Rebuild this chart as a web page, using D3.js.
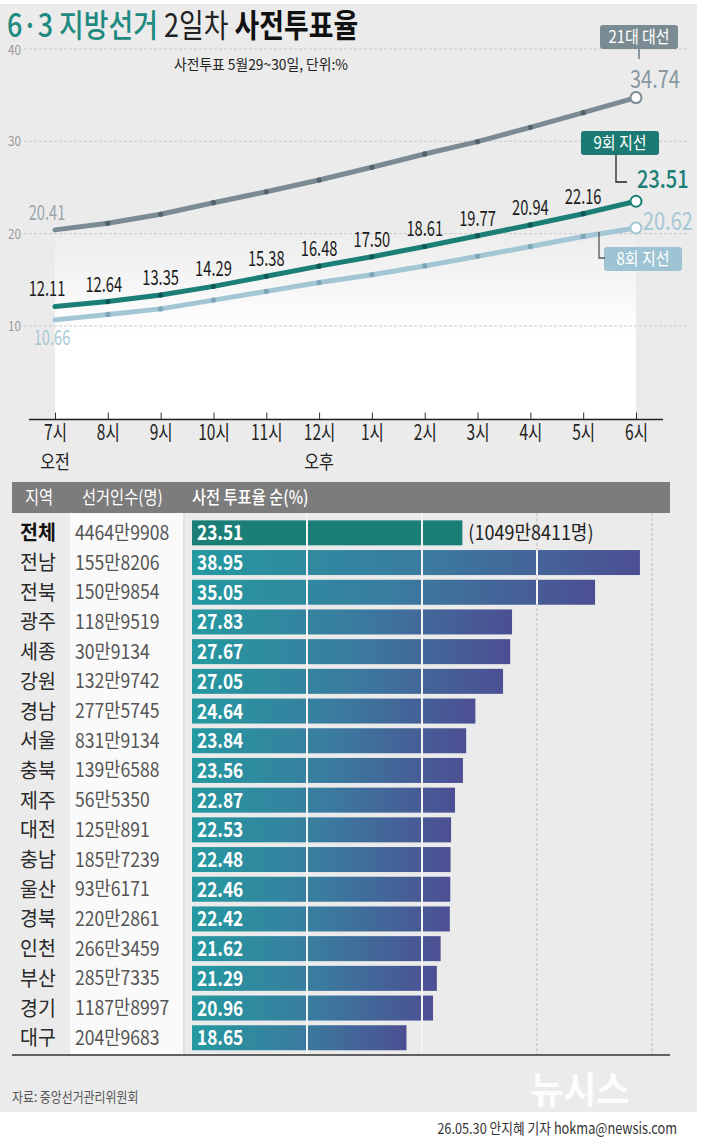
<!DOCTYPE html>
<html><head><meta charset="utf-8">
<script src="https://cdn.jsdelivr.net/npm/d3@7"></script>
<style>
html,body{margin:0;padding:0;background:#fff;}
svg{display:block;font-family:"Noto Sans CJK KR","Noto Sans",sans-serif;}
</style></head>
<body>
<svg id="c" width="705" height="1142"></svg>
<script>
// ---------- DATA ----------
const hours = ["7시","8시","9시","10시","11시","12시","1시","2시","3시","4시","5시","6시"];
const yTicks = [10,20,30,40];
const pres21 = [20.41,21.12,22.10,23.35,24.54,25.81,27.19,28.63,29.96,31.52,33.10,34.74];
const local9 = [12.11,12.64,13.35,14.29,15.38,16.48,17.50,18.61,19.77,20.94,22.16,23.51];
const local8 = [10.66,11.25,11.85,12.80,13.75,14.70,15.55,16.50,17.55,18.60,19.70,20.62];
const seriesNames = ["21대 대선","9회 지선","8회 지선"];

const regions  = ["전체","전남","전북","광주","세종","강원","경남","서울","충북","제주","대전","충남","울산","경북","인천","부산","경기","대구"];
const electors = ["4464만9908","155만8206","150만9854","118만9519","30만9134","132만9742","277만5745","831만9134","139만6588","56만5350","125만891","185만7239","93만6171","220만2861","266만3459","285만7335","1187만8997","204만9683"];
const rates    = [23.51,38.95,35.05,27.83,27.67,27.05,24.64,23.84,23.56,22.87,22.53,22.48,22.46,22.42,21.62,21.29,20.96,18.65];
const barTicks = [10,20,30,40];
const totalVoters = "(1049만8411명)";

// ---------- SETUP ----------
const svg = d3.select("#c");
const defs = svg.append("defs");

function T(p, x, y, s, o={}) {
  const t = p.append("text")
    .attr("transform", `translate(${x},${y}) scale(${o.sx||1},1)`)
    .attr("font-size", o.size||16)
    .attr("font-weight", o.weight||400)
    .attr("fill", o.fill||"#222")
    .attr("text-anchor", o.anchor||"start")
    .text(s);
  return t;
}

// backgrounds
svg.append("rect").attr("x",0).attr("y",0).attr("width",705).attr("height",1142).attr("fill","#ffffff");
svg.append("rect").attr("x",0).attr("y",4).attr("width",697).attr("height",1108).attr("fill","#ebebeb");

// ---------- LINE CHART ----------
const x = d3.scalePoint().domain(hours).range([55,636]);
const y = d3.scaleLinear().domain([0,40]).range([418.3,49]);

const grad = defs.append("linearGradient").attr("id","areaG")
  .attr("gradientUnits","userSpaceOnUse").attr("x1",0).attr("x2",0).attr("y1",y(21)).attr("y2",y(9));
grad.append("stop").attr("offset",0).attr("stop-color","#ebebeb");
grad.append("stop").attr("offset",1).attr("stop-color","#ffffff");

svg.append("path").datum(pres21)
  .attr("d", d3.area().x((d,i)=>x(hours[i])).y0(y(0)).y1(d=>y(d)))
  .attr("fill","url(#areaG)");

// grid
svg.append("g").selectAll("line").data(yTicks).join("line")
  .attr("x1",24).attr("x2",688).attr("y1",d=>y(d)).attr("y2",d=>y(d))
  .attr("stroke","#c9c9c9").attr("stroke-width",1).attr("stroke-dasharray","3,2");
yTicks.forEach(v=>{
  T(svg, 8, y(v)+(v===40?6:5), String(v), {size:13, fill:"#9a9a9a", sx:0.9});
});

// x axis
const xAxis = svg.append("g").attr("transform",`translate(0,${419.5})`)
  .call(d3.axisBottom(x).tickSizeInner(-7).tickSizeOuter(0).tickPadding(6));
xAxis.select(".domain").remove();
xAxis.append("line").attr("x1",29).attr("x2",663).attr("stroke","#222").attr("stroke-width",1.5);
xAxis.selectAll(".tick line").attr("stroke","#333").attr("stroke-width",1);
xAxis.selectAll(".tick text").attr("font-size",21).attr("fill","#222")
  .attr("font-family","'Noto Sans CJK KR',sans-serif").attr("transform","scale(0.74,1)");
T(svg, x("7시"), 469, "오전", {size:19, anchor:"middle", sx:0.85, fill:"#222"});
T(svg, x("12시"), 469, "오후", {size:19, anchor:"middle", sx:0.85, fill:"#222"});

const line = d3.line().x((d,i)=>x(hours[i])).y(d=>y(d));
const series = [
  {name:seriesNames[0], data:pres21, color:"#7b8b93", dot:"#52626a"},
  {name:seriesNames[2], data:local8, color:"#a3c6d4", dot:"#7aa6b8"},
  {name:seriesNames[1], data:local9, color:"#1b7f78", dot:"#0e5853"}
];
series.forEach(s=>{
  svg.append("path").datum(s.data).attr("d",line)
    .attr("fill","none").attr("stroke",s.color).attr("stroke-width",5).attr("stroke-linecap","round");
  svg.append("g").selectAll("circle").data(s.data.slice(1,-1)).join("circle")
    .attr("cx",(d,i)=>x(hours[i+1])).attr("cy",d=>y(d)).attr("r",2.6).attr("fill",s.dot);
  svg.append("circle").attr("cx",x(hours[11])).attr("cy",y(s.data[11])).attr("r",5.5)
    .attr("fill","#fff").attr("stroke",s.color).attr("stroke-width",2);
});

// 9회 value labels
local9.slice(0,11).forEach((v,i)=>{
  T(svg, x(hours[i]) - (i===0?8:(i===1?4:0)), y(v)-10, v.toFixed(2), {size:21, anchor:"middle", sx:0.7, fill:"#1a1a1a"});
});
T(svg, x(hours[0])-8, y(pres21[0])-10, pres21[0].toFixed(2), {size:21, anchor:"middle", sx:0.7, fill:"#9aa6ac"});
T(svg, x(hours[0])-3, y(local8[0])+25, local8[0].toFixed(2), {size:21, anchor:"middle", sx:0.7, fill:"#a9c9d6"});

// end labels
const xe = x(hours[11]);
T(svg, xe-6, y(pres21[11])-10, pres21[11].toFixed(2), {size:25, sx:0.8, fill:"#8898a0"});
T(svg, xe+1, y(local9[11])-13, local9[11].toFixed(2), {size:25, sx:0.8, fill:"#1b7f78", weight:500});
T(svg, xe+7, y(local8[11])+2, local8[11].toFixed(2), {size:25, sx:0.8, fill:"#a6c7d4"});

// legend boxes
function box(cx, top, w, label, color) {
  svg.append("rect").attr("x",cx-w/2).attr("y",top).attr("width",w).attr("height",24).attr("rx",3).attr("fill",color);
  T(svg, cx, top+18, label, {size:17, anchor:"middle", sx:0.88, fill:"#fff"});
}
box(639, 25, 78, seriesNames[0], "#7b8b93");
svg.append("line").attr("x1",639).attr("x2",639).attr("y1",49).attr("y2",59).attr("stroke","#6b7b83").attr("stroke-width",1.5);
box(620, 131, 78, seriesNames[1], "#1b7b73");
svg.append("path").attr("d","M616,155V182H627").attr("fill","none").attr("stroke","#222").attr("stroke-width",1.3);
box(643, 247, 78, seriesNames[2], "#9ec4d3");
svg.append("path").attr("d","M599,232V258H605").attr("fill","none").attr("stroke","#555").attr("stroke-width",1.3);

// title
const title = svg.append("text").attr("transform","translate(7,37) scale(0.84,1)").attr("font-size",32);
title.append("tspan").attr("fill","#1f8a80").attr("font-weight",500).text("6·3 지방선거 ");
title.append("tspan").attr("fill","#222").attr("font-weight",400).text("2일차 ");
title.append("tspan").attr("fill","#111").attr("font-weight",700).text("사전투표율");
T(svg, 174, 70, "사전투표 5월29~30일, 단위:%", {size:15, sx:0.92, fill:"#222"});

// ---------- TABLE ----------
const bx = d3.scaleLinear().domain([0,40]).range([192,652]);
const by = d3.scaleBand().domain(regions).range([518, 518+29.7*regions.length]);
const bh = 25;

svg.append("rect").attr("x",12).attr("y",482).attr("width",658).attr("height",31).attr("fill","#7c7c7c");
T(svg, 25, 504, "지역", {size:18, sx:0.85, fill:"#fff"});
T(svg, 82, 504, "선거인수(명)", {size:18, sx:0.85, fill:"#fff"});
T(svg, 192, 504, "사전 투표율 순(%)", {size:18, sx:0.85, fill:"#fff", weight:500});

svg.append("rect").attr("x",70).attr("y",513).attr("width",113).attr("height",542).attr("fill","#fafafa");
svg.append("line").attr("x1",184).attr("x2",184).attr("y1",513).attr("y2",1055).attr("stroke","#d5d5d5");

// dashed grid for 30,40
svg.append("g").selectAll("line").data(barTicks.filter(d=>d>=30)).join("line")
  .attr("x1",d=>bx(d)).attr("x2",d=>bx(d)).attr("y1",513).attr("y2",1055)
  .attr("stroke","#bdbdbd").attr("stroke-dasharray","3,2");

const bg = defs.append("linearGradient").attr("id","barG").attr("x1",0).attr("x2",1).attr("y1",0).attr("y2",0);
bg.append("stop").attr("offset",0).attr("stop-color","#2499a0");
bg.append("stop").attr("offset",0.5).attr("stop-color","#3a7c9f");
bg.append("stop").attr("offset",1).attr("stop-color","#4c4f93");

svg.append("g").selectAll("rect").data(regions).join("rect")
  .attr("x",bx(0)).attr("y",d=>by(d)+(by.bandwidth()-bh)/2)
  .attr("width",(d,i)=>bx(rates[i])-bx(0)).attr("height",bh)
  .attr("fill",(d,i)=>i===0?"#1b7f78":"url(#barG)");

// white separators over bars
svg.append("g").selectAll("line").data(barTicks.filter(d=>d<30)).join("line")
  .attr("x1",d=>bx(d)).attr("x2",d=>bx(d)).attr("y1",513).attr("y2",1055)
  .attr("stroke","#f4f4f4").attr("stroke-width",2);
regions.forEach((r,i)=>{
  barTicks.filter(t=>t>=30 && rates[i]>t).forEach(t=>{
    svg.append("line").attr("x1",bx(t)).attr("x2",bx(t))
      .attr("y1",by(r)+(by.bandwidth()-bh)/2).attr("y2",by(r)+(by.bandwidth()+bh)/2)
      .attr("stroke","#f4f4f4").attr("stroke-width",2);
  });
});

regions.forEach((r,i)=>{
  const cy = by(r)+by.bandwidth()/2;
  T(svg, 20, cy+7.5, r, {size:20.5, sx:0.95, fill:i===0?"#111":"#2a2a2a", weight:i===0?700:400});
  T(svg, 75, cy+7, electors[i], {size:20, sx:0.88, fill:"#555"});
  T(svg, bx(0)+5, cy+7.5, rates[i].toFixed(2), {size:20.5, sx:0.84, fill:"#fff", weight:700});
});
T(svg, bx(rates[0])+6, by(regions[0])+by.bandwidth()/2+7, totalVoters, {size:20, sx:0.9, fill:"#222"});

svg.append("line").attr("x1",12).attr("x2",670).attr("y1",1055).attr("y2",1055).attr("stroke","#333").attr("stroke-width",1.5);

// footer
T(svg, 12, 1102, "자료: 중앙선거관리위원회", {size:14, sx:0.85, fill:"#555"});
T(svg, 677, 1134, "26.05.30 안지혜 기자 hokma@newsis.com", {size:15, sx:0.85, fill:"#333", anchor:"end"});
T(svg, 530, 1103, "뉴시스", {size:38, sx:0.95, fill:"#ffffff", weight:700}).attr("opacity",0.9);
</script>
</body></html>
